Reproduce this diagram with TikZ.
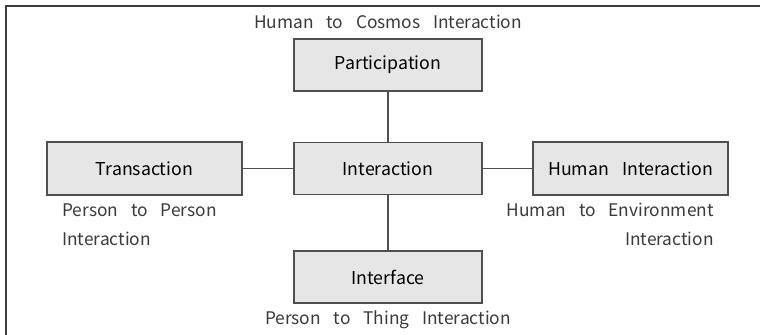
\documentclass[tikz,border=0pt]{standalone}
\usepackage{fontspec}
\setmainfont{Noto Sans CJK KR}
\definecolor{frameline}{HTML}{3C3C3C}
\definecolor{boxline}{HTML}{505050}
\definecolor{boxfill}{HTML}{E6E6E6}
\definecolor{labelgray}{HTML}{3A3A3A}
\newcommand{\widespaces}{\spaceskip=0.74em plus 0.1em minus 0.1em\relax}
\begin{document}
\begin{tikzpicture}[x=0.75pt,y=-0.75pt,
  concept/.style={draw=boxline, fill=boxfill, line width=0.9pt, inner sep=0pt,
    minimum width=141pt, minimum height=39pt,
    font=\fontsize{13.3}{15}\selectfont\widespaces},
  wide/.style={concept, minimum width=146.25pt, minimum height=39.75pt},
  caption/.style={inner sep=0pt, text=labelgray,
    font=\fontsize{13}{21.75}\selectfont\widespaces},
  link/.style={draw=boxline, line width=0.9pt}]
  \useasboundingbox (0,0) rectangle (760,335);
  % outer frame (open at right and bottom)
  \draw[frameline, line width=1.5pt] (5.5,335) -- (5.5,6) -- (760,6);

  % concept boxes
  \node[concept] (part)  at (388,65)    {Participation};
  \node[concept] (inter) at (388,168.5) {Interaction};
  \node[concept] (iface) at (388,277)   {Interface};
  \node[wide]    (trans) at (144.5,168.5) {Transaction};
  \node[wide]    (human) at (630.5,168.5) {Human Interaction};

  % connectors
  \draw[link] (part) -- (inter);
  \draw[link] (inter) -- (iface);
  \draw[link] (trans) -- (inter);
  \draw[link] (inter) -- (human);

  % captions
  \node[caption] (capTop) at (388,22) {Human to Cosmos Interaction};
  \node[caption, anchor=west, align=left] (capLeft) at (62,224.5) {Person to Person\\Interaction};
  \node[caption, anchor=east, align=right] (capRight) at (714,224.5) {Human to Environment\\Interaction};
  \node[caption] (capBottom) at (388,320) {Person to Thing Interaction};
\end{tikzpicture}
\end{document}
